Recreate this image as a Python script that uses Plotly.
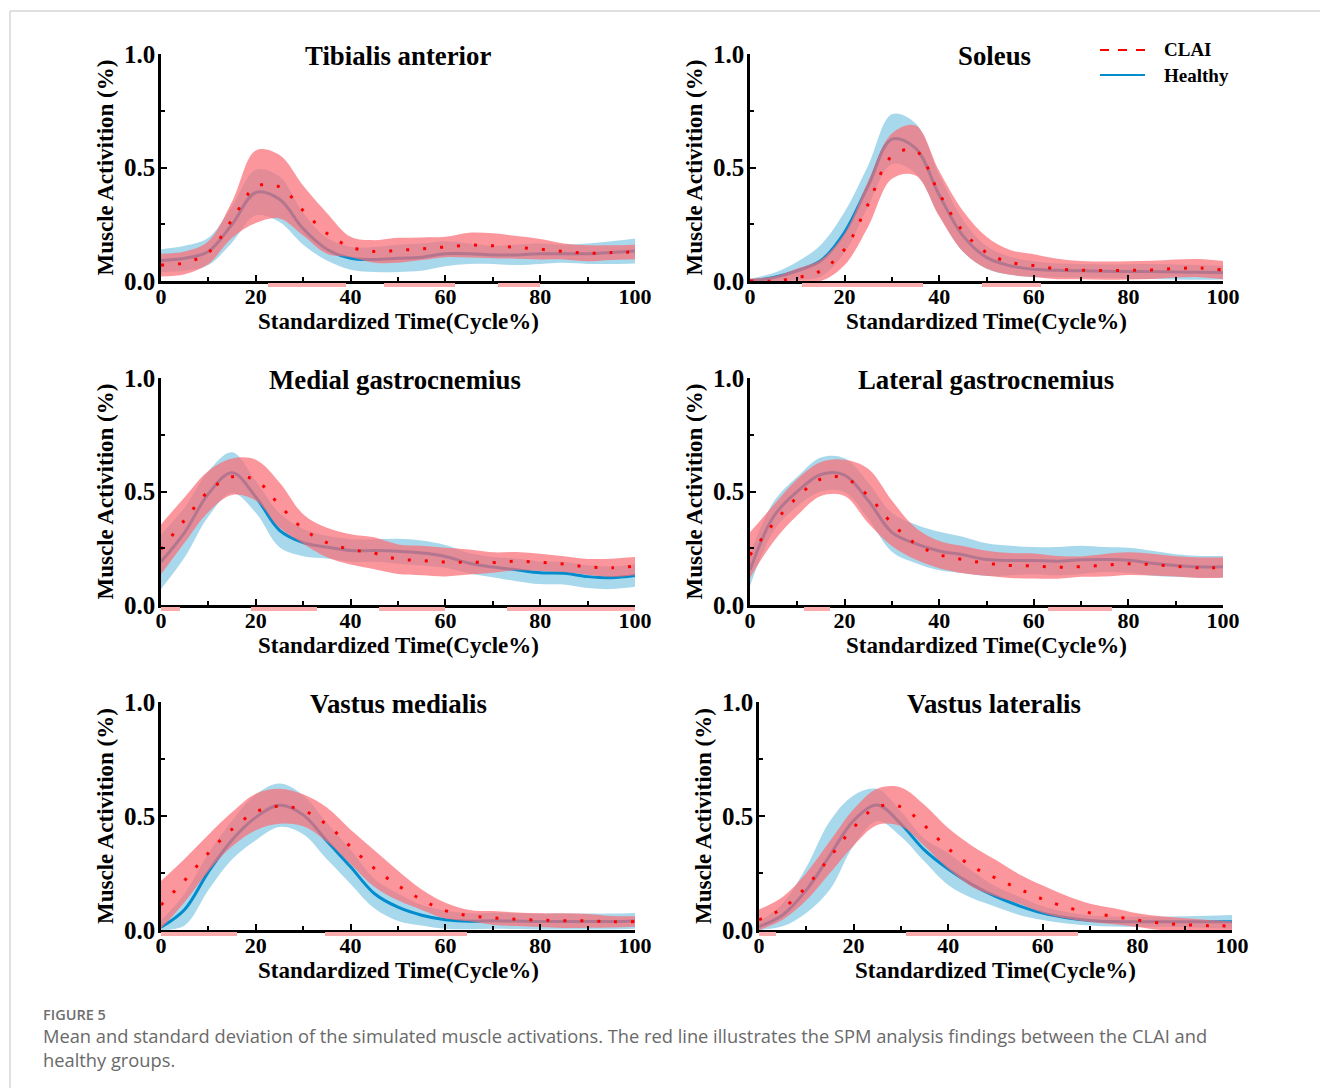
import numpy as np
import plotly.graph_objects as go

# ---------------------------------------------------------------------------
# Gait-cycle grid (% of stance/gait cycle)
cycle = list(range(0, 101, 5))

# Tibialis anterior
ta_healthy_mean = [0.09, 0.10, 0.13, 0.25, 0.39, 0.36, 0.23, 0.14, 0.10, 0.095, 0.10,
                   0.105, 0.12, 0.12, 0.115, 0.115, 0.12, 0.12, 0.12, 0.125, 0.132]
ta_healthy_sd = [0.05, 0.055, 0.06, 0.08, 0.10, 0.10, 0.07, 0.05, 0.05, 0.055, 0.06,
                 0.06, 0.055, 0.045, 0.04, 0.045, 0.045, 0.04, 0.045, 0.05, 0.055]
ta_clai_mean = [0.07, 0.08, 0.125, 0.27, 0.415, 0.415, 0.31, 0.21, 0.15, 0.13, 0.135,
                0.142, 0.15, 0.158, 0.155, 0.148, 0.14, 0.13, 0.122, 0.125, 0.128]
ta_clai_sd = [0.05, 0.05, 0.05, 0.08, 0.16, 0.14, 0.11, 0.09, 0.045, 0.05, 0.055,
              0.05, 0.045, 0.055, 0.055, 0.05, 0.045, 0.035, 0.035, 0.032, 0.032]
ta_spm = [(22.5, 39.0), (47.0, 62.0), (71.0, 80.0)]

# Soleus
sol_healthy_mean = [0.0, 0.015, 0.045, 0.09, 0.215, 0.42, 0.625, 0.585, 0.379, 0.20, 0.104,
                    0.067, 0.052, 0.047, 0.045, 0.043, 0.042, 0.042, 0.04, 0.038, 0.037]
sol_healthy_sd = [0.01, 0.02, 0.04, 0.07, 0.09, 0.09, 0.11, 0.11, 0.09, 0.07, 0.05,
                  0.04, 0.035, 0.03, 0.03, 0.03, 0.032, 0.033, 0.033, 0.032, 0.03]
sol_clai_mean = [0.0, 0.0, 0.015, 0.045, 0.14, 0.34, 0.55, 0.575, 0.385, 0.22, 0.125,
                 0.082, 0.068, 0.053, 0.048, 0.046, 0.047, 0.049, 0.055, 0.057, 0.048]
sol_clai_sd = [0.01, 0.02, 0.04, 0.05, 0.07, 0.10, 0.10, 0.11, 0.10, 0.09, 0.07,
               0.055, 0.05, 0.045, 0.04, 0.04, 0.04, 0.04, 0.04, 0.04, 0.04]
sol_spm = [(11.0, 36.5), (49.0, 61.5)]

# Medial gastrocnemius
mg_healthy_mean = [0.19, 0.32, 0.49, 0.583, 0.476, 0.329, 0.275, 0.255, 0.24, 0.24, 0.237,
                   0.229, 0.214, 0.184, 0.167, 0.155, 0.142, 0.14, 0.125, 0.12, 0.13]
mg_healthy_sd = [0.12, 0.11, 0.10, 0.09, 0.07, 0.075, 0.06, 0.05, 0.05, 0.05, 0.055,
                 0.055, 0.05, 0.045, 0.045, 0.05, 0.05, 0.05, 0.05, 0.05, 0.05]
mg_clai_mean = [0.245, 0.375, 0.50, 0.565, 0.55, 0.44, 0.335, 0.275, 0.245, 0.228, 0.202,
                0.196, 0.189, 0.189, 0.187, 0.193, 0.188, 0.18, 0.168, 0.164, 0.171]
mg_clai_sd = [0.11, 0.10, 0.09, 0.08, 0.09, 0.10, 0.065, 0.065, 0.067, 0.07, 0.065,
              0.065, 0.063, 0.055, 0.045, 0.04, 0.038, 0.035, 0.035, 0.04, 0.04]
mg_spm = [(0.0, 4.0), (19.0, 33.0), (46.0, 60.0), (73.0, 100.0)]

# Lateral gastrocnemius
lg_healthy_mean = [0.154, 0.39, 0.50, 0.575, 0.572, 0.46, 0.32, 0.27, 0.238, 0.221, 0.20,
                   0.196, 0.196, 0.193, 0.199, 0.20, 0.197, 0.184, 0.174, 0.168, 0.169]
lg_healthy_sd = [0.07, 0.065, 0.065, 0.075, 0.075, 0.08, 0.085, 0.085, 0.085, 0.08, 0.072,
                 0.065, 0.06, 0.062, 0.062, 0.055, 0.055, 0.055, 0.05, 0.048, 0.047]
lg_clai_mean = [0.22, 0.36, 0.475, 0.555, 0.56, 0.48, 0.36, 0.27, 0.222, 0.20, 0.184,
                0.174, 0.172, 0.166, 0.169, 0.175, 0.182, 0.178, 0.17, 0.164, 0.165]
lg_clai_sd = [0.10, 0.08, 0.08, 0.075, 0.08, 0.12, 0.10, 0.07, 0.06, 0.06, 0.055,
              0.055, 0.055, 0.05, 0.045, 0.05, 0.05, 0.048, 0.045, 0.045, 0.045]
lg_spm = [(11.5, 17.0), (63.0, 76.5)]

# Vastus medialis
vm_healthy_mean = [0.012, 0.09, 0.255, 0.395, 0.494, 0.547, 0.505, 0.39, 0.277, 0.16, 0.10,
                   0.065, 0.045, 0.038, 0.041, 0.039, 0.037, 0.037, 0.037, 0.037, 0.04]
vm_healthy_sd = [0.03, 0.07, 0.08, 0.085, 0.10, 0.095, 0.085, 0.08, 0.075, 0.065, 0.06,
                 0.045, 0.04, 0.035, 0.035, 0.035, 0.035, 0.035, 0.035, 0.035, 0.035]
vm_clai_mean = [0.11, 0.218, 0.338, 0.442, 0.518, 0.543, 0.525, 0.462, 0.365, 0.27, 0.195,
                0.133, 0.085, 0.063, 0.053, 0.047, 0.043, 0.041, 0.04, 0.036, 0.037]
vm_clai_sd = [0.105, 0.095, 0.08, 0.075, 0.08, 0.077, 0.07, 0.075, 0.075, 0.08, 0.065,
              0.045, 0.035, 0.025, 0.03, 0.03, 0.03, 0.032, 0.03, 0.025, 0.023]
vm_spm = [(0.0, 16.0), (34.5, 64.5)]

# Vastus lateralis
vl_healthy_mean = [0.015, 0.066, 0.175, 0.328, 0.48, 0.548, 0.465, 0.35, 0.267, 0.20, 0.147,
                   0.106, 0.074, 0.054, 0.042, 0.037, 0.036, 0.036, 0.036, 0.036, 0.036]
vl_healthy_sd = [0.02, 0.05, 0.10, 0.15, 0.11, 0.07, 0.055, 0.05, 0.07, 0.06, 0.045,
                 0.04, 0.03, 0.025, 0.022, 0.022, 0.022, 0.022, 0.024, 0.027, 0.03]
vl_clai_mean = [0.045, 0.095, 0.19, 0.32, 0.45, 0.54, 0.54, 0.458, 0.357, 0.28, 0.228,
                0.18, 0.135, 0.10, 0.075, 0.06, 0.043, 0.03, 0.023, 0.019, 0.018]
vl_clai_sd = [0.045, 0.05, 0.06, 0.07, 0.08, 0.08, 0.085, 0.09, 0.09, 0.09, 0.08,
              0.065, 0.06, 0.05, 0.04, 0.035, 0.03, 0.03, 0.028, 0.025, 0.02]
vl_spm = [(0.0, 3.5), (31.0, 67.5)]

muscle_names = ["Tibialis anterior", "Soleus", "Medial gastrocnemius",
                "Lateral gastrocnemius", "Vastus medialis", "Vastus lateralis"]

# ---------------------------------------------------------------------------
W, H = 1320, 1088
# plot-area boxes in pixels: (left, right, top, bottom)
boxes = [(161, 635, 54, 281), (750, 1223, 54, 281),
         (161, 635, 378, 605), (750, 1223, 378, 605),
         (161, 635, 702, 930), (759, 1232, 702, 930)]
title_x = [398, 994, 395, 986, 398, 994]

HEALTHY_BAND = "rgb(168,216,235)"
HEALTHY_LINE = "rgb(0,140,205)"
CLAI_BAND = "rgba(250,110,118,0.72)"
CLAI_LINE = "rgb(255,0,0)"
SPM_COLOR = "rgb(250,172,172)"
SERIF = "Liberation Serif"

panels = [
    (ta_healthy_mean, ta_healthy_sd, ta_clai_mean, ta_clai_sd, ta_spm),
    (sol_healthy_mean, sol_healthy_sd, sol_clai_mean, sol_clai_sd, sol_spm),
    (mg_healthy_mean, mg_healthy_sd, mg_clai_mean, mg_clai_sd, mg_spm),
    (lg_healthy_mean, lg_healthy_sd, lg_clai_mean, lg_clai_sd, lg_spm),
    (vm_healthy_mean, vm_healthy_sd, vm_clai_mean, vm_clai_sd, vm_spm),
    (vl_healthy_mean, vl_healthy_sd, vl_clai_mean, vl_clai_sd, vl_spm),
]

fig = go.Figure()


def band(fig, x, mean, sd, color, xa, ya):
    mean = np.asarray(mean)
    sd = np.asarray(sd)
    lower = np.clip(mean - sd, 0, None)
    upper = mean + sd
    fig.add_trace(go.Scatter(x=x, y=lower, mode="lines", line=dict(width=0, shape="spline"),
                             xaxis=xa, yaxis=ya, showlegend=False, hoverinfo="skip"))
    fig.add_trace(go.Scatter(x=x, y=upper, mode="lines", line=dict(width=0, shape="spline"),
                             fill="tonexty", fillcolor=color,
                             xaxis=xa, yaxis=ya, showlegend=False, hoverinfo="skip"))


annotations = []
n_panels = len(panels)
for i, (hm, hs, cm, cs, spm) in enumerate(panels):
    n = i + 1
    xa = "x" if n == 1 else f"x{n}"
    ya = "y" if n == 1 else f"y{n}"
    strip = f"y{n + n_panels}"          # thin strip under the time axis for SPM segments
    left, right, top, bottom = boxes[i]

    band(fig, cycle, hm, hs, HEALTHY_BAND, xa, ya)
    fig.add_trace(go.Scatter(x=cycle, y=hm, mode="lines", name="Healthy",
                             line=dict(color=HEALTHY_LINE, width=3, shape="spline"),
                             xaxis=xa, yaxis=ya, showlegend=False))
    band(fig, cycle, cm, cs, CLAI_BAND, xa, ya)
    fig.add_trace(go.Scatter(x=cycle, y=cm, mode="lines", name="CLAI",
                             line=dict(color=CLAI_LINE, width=3, dash="3px,14px", shape="spline"),
                             xaxis=xa, yaxis=ya, showlegend=False))

    # SPM significance segments
    fig.add_trace(go.Bar(x=[(s + e) / 2 for s, e in spm],
                         y=[1.0] * len(spm),
                         width=[e - s for s, e in spm],
                         base=0,
                         marker=dict(color=SPM_COLOR, line=dict(width=0)),
                         xaxis=xa, yaxis=strip,
                         showlegend=False, hoverinfo="skip"))

    axis_common = dict(showline=True, linecolor="black", linewidth=2.5,
                       showgrid=False, zeroline=False, ticks="inside",
                       tickcolor="black", tickwidth=2, ticklen=6, automargin=False)
    fig.layout[f"xaxis{'' if n == 1 else n}"] = dict(
        domain=[left / W, right / W], anchor=ya, range=[0, 100],
        tickvals=[0, 20, 40, 60, 80, 100], ticklabelstandoff=-6,
        minor=dict(tickvals=[10, 30, 50, 70, 90], ticks="inside", ticklen=4,
                   tickwidth=2, tickcolor="black"),
        tickfont=dict(family=SERIF, size=22, color="black", weight="bold"),
        **axis_common)
    fig.layout[f"yaxis{'' if n == 1 else n}"] = dict(
        domain=[1 - bottom / H, 1 - top / H], anchor=xa, range=[0, 1.0],
        tickvals=[0, 0.5, 1.0], ticktext=["0.0", "0.5", "1.0"], ticklabelstandoff=-2,
        minor=dict(tickvals=[0.25, 0.75], ticks="inside", ticklen=4,
                   tickwidth=2, tickcolor="black"),
        tickfont=dict(family=SERIF, size=25, color="black", weight="bold"),
        **axis_common)
    fig.layout[f"yaxis{n + n_panels}"] = dict(
        domain=[1 - (bottom + 6) / H, 1 - (bottom + 2) / H], anchor=xa,
        range=[0, 1], visible=False, fixedrange=True, automargin=False)

    annotations.append(dict(text=muscle_names[i], x=title_x[i] / W, y=1 - (top + 2) / H,
                            xref="paper", yref="paper", showarrow=False,
                            xanchor="center", yanchor="middle",
                            font=dict(family=SERIF, size=26.8, color="black", weight="bold")))
    annotations.append(dict(text="Standardized Time(Cycle%)", x=(left + right) / 2 / W,
                            y=1 - (bottom + 40) / H, xref="paper", yref="paper",
                            showarrow=False, xanchor="center", yanchor="middle",
                            font=dict(family=SERIF, size=23, color="black", weight="bold")))
    annotations.append(dict(text="Muscle Activition (%)", x=(left - 56) / W,
                            y=1 - (top + bottom) / 2 / H, xref="paper", yref="paper",
                            showarrow=False, textangle=-90, xanchor="center",
                            yanchor="middle",
                            font=dict(family=SERIF, size=23, color="black", weight="bold")))

# legend entries
legend_items = [("CLAI", CLAI_LINE, "dash", 50), ("Healthy", HEALTHY_LINE, "solid", 75)]
shapes = []
for label, color, dash, py in legend_items:
    shapes.append(dict(type="line", xref="paper", yref="paper",
                       x0=1100 / W, x1=1145 / W, y0=1 - py / H, y1=1 - py / H,
                       line=dict(color=color, width=2, dash=dash)))
    annotations.append(dict(text=label, x=1162 / W, y=1 - py / H, xref="paper", yref="paper",
                            showarrow=False, xanchor="left", yanchor="middle",
                            font=dict(family=SERIF, size=19, color="black", weight="bold")))

# figure frame (top and left rules)
shapes.append(dict(type="line", xref="paper", yref="paper", x0=10 / W, x1=1.0,
                   y0=1 - 11 / H, y1=1 - 11 / H, line=dict(color="rgb(214,214,214)", width=1.5)))
shapes.append(dict(type="line", xref="paper", yref="paper", x0=10 / W, x1=10 / W,
                   y0=0, y1=1 - 11 / H, line=dict(color="rgb(214,214,214)", width=1.5)))

# caption
annotations.append(dict(text="FIGURE 5", x=41 / W, y=1 - 1014 / H, xref="paper", yref="paper",
                        showarrow=False, xanchor="left", yanchor="middle",
                        font=dict(family="Open Sans", size=14.5, color="rgb(110,110,110)",
                                  weight=600)))
annotations.append(dict(
    text="Mean and standard deviation of the simulated muscle activations. The red line "
         "illustrates the SPM analysis findings between the CLAI and<br>healthy groups.",
    x=41 / W, y=1 - 1047 / H, xref="paper", yref="paper", showarrow=False,
    xanchor="left", yanchor="middle", align="left",
    font=dict(family="Open Sans", size=18.3, color="rgb(105,105,105)")))

fig.update_layout(width=W, height=H, margin=dict(l=0, r=0, t=0, b=0, pad=0, autoexpand=False),
                  paper_bgcolor="white", plot_bgcolor="white",
                  showlegend=False, annotations=annotations, shapes=shapes,
                  barmode="overlay", bargap=0)

fig.write_html("out.html", post_script="document.body.style.margin = '0';")
